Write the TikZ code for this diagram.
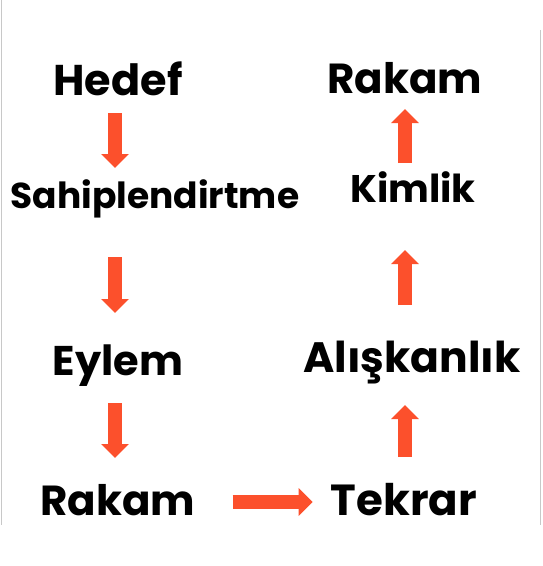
\documentclass[tikz,border=0pt]{standalone}
\usepackage{fontspec}
\setmainfont{Poppins}
\usetikzlibrary{arrows.meta,calc,positioning}
\definecolor{flowred}{RGB}{252,80,44}
\definecolor{edgegray}{RGB}{200,200,200}
\tikzset{
    word/.style ={inner sep=0pt, anchor=base, font=\bfseries\fontsize{#1}{#1}\selectfont},
    flow/.style ={draw=flowred, line width=14pt, -{Triangle[length=14pt, width=27pt]}},
    rim/.style = {draw=edgegray, line width=1pt}
}
\begin{document}
\begin{tikzpicture}[x=1pt,y=-1pt]
    \useasboundingbox (0,0) rectangle (542,566);
    \draw[rim] (1,0) -- (1,525);
    \draw[rim] (540,30) -- (540,525);

    \node[word=43] (hedef) at (118,95) {Hedef};
    \node[word=36] (sahip) at (155,208) {Sahiplendirtme};
    \node[word=41.5] (eylem) at (118,375) {Eylem};
    \node[word=42] (rakam1) at (118,515) {Rakam};
    \node[word=43.5] (tekrar) at (404,515) {Tekrar};
    \node[word=42.5] (aliskan) at (412,372) {Alışkanlık};
    \node[word=38.5] (kimlik) at (413,202) {Kimlik};
    \node[word=42] (rakam2) at (405,93) {Rakam};
    \coordinate (colL) at (115,0);
    \coordinate (colR) at (405,0);

    % left column, going down
    \draw[flow] ([yshift=-18pt]hedef.base -| colL) -- ([yshift=40pt]sahip.base -| colL);
    \draw[flow] ([yshift=-49pt]sahip.base -| colL) -- ([yshift=62pt]eylem.base -| colL);
    \draw[flow] ([yshift=-28pt]eylem.base -| colL) -- ([yshift=57pt]rakam1.base -| colL);
    % across the bottom
    \draw[flow] ([shift={(37pt,13pt)}]rakam1.base east) -- ([shift={(-18pt,13pt)}]tekrar.base west);
    % right column, going up
    \draw[flow] ([yshift=58pt]tekrar.base -| colR) -- ([yshift=-33pt]aliskan.base -| colR);
    \draw[flow] ([yshift=67pt]aliskan.base -| colR) -- ([yshift=-48pt]kimlik.base -| colR);
    \draw[flow] ([yshift=39pt]kimlik.base -| colR) -- ([yshift=-16pt]rakam2.base -| colR);
\end{tikzpicture}
\end{document}
